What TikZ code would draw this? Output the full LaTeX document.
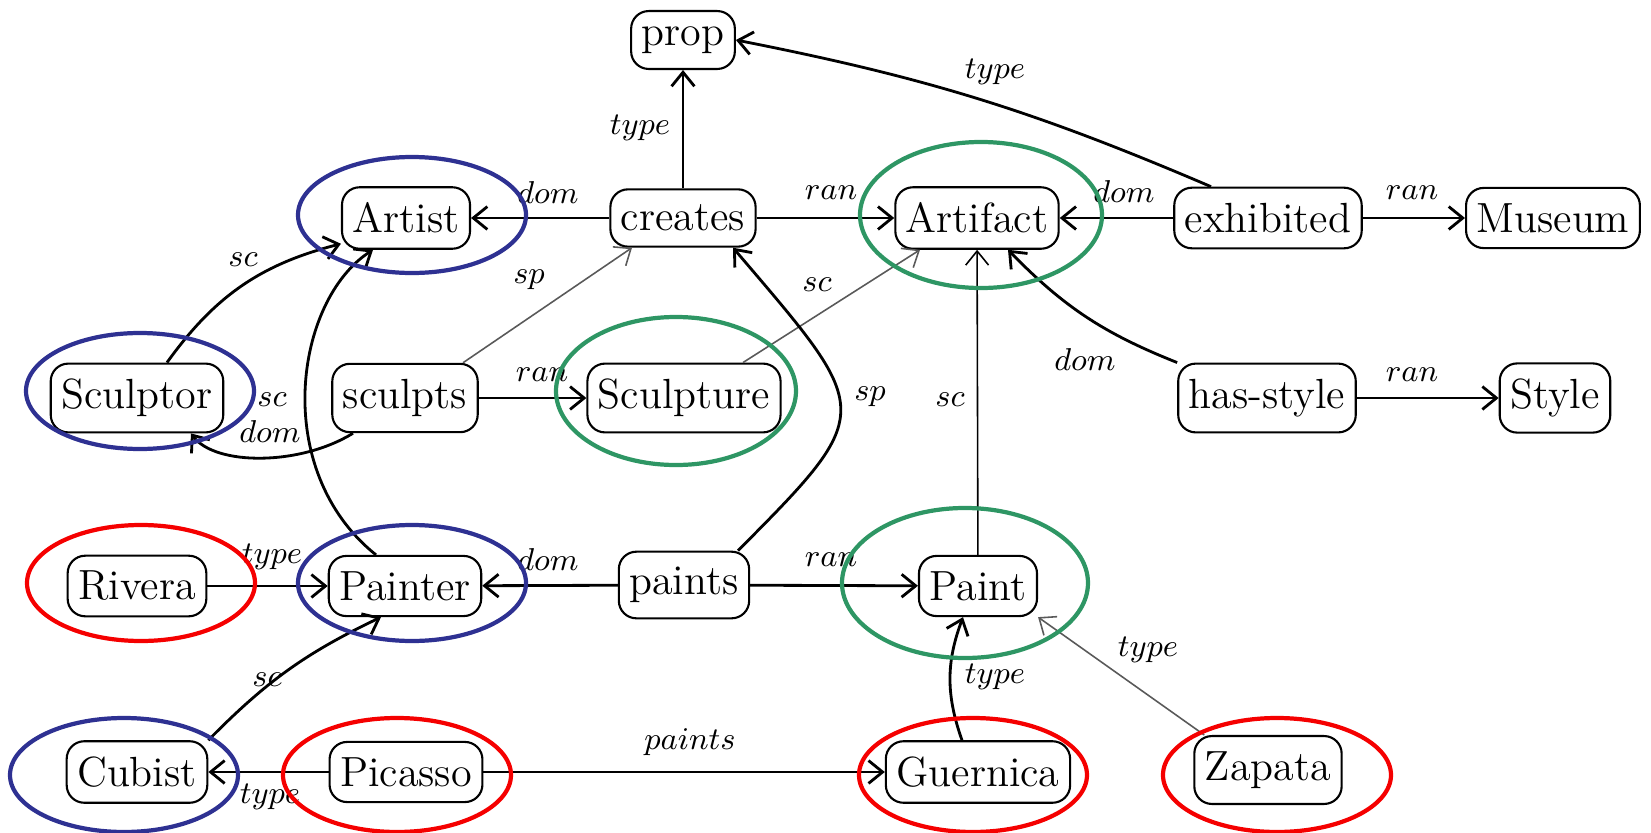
\documentclass[tikz,border=0pt]{standalone}
\usetikzlibrary{arrows.meta,calc}
\definecolor{ellblue}{RGB}{46,49,146}
\definecolor{ellgreen}{RGB}{46,150,100}
\definecolor{ellred}{RGB}{245,0,0}
\begin{document}
\begin{tikzpicture}[x=0.1mm,y=-0.1mm,
  box/.style={draw, rounded corners=5pt, line width=0.6pt, inner xsep=3pt, inner ysep=4.4pt, font=\fontsize{12}{14}\selectfont},
  edge/.style={line width=0.8pt, -{Straight Barb[length=4pt,width=6.5pt]}},
  thinedge/.style={line width=0.45pt, draw=black!65, -{Straight Barb[length=4pt,width=6.5pt]}},
  thinblack/.style={line width=0.45pt, draw=black, -{Straight Barb[length=4pt,width=6.5pt]}},
  lab/.style={font=\fontsize{9}{10}\selectfont, inner sep=0pt},
  ell/.style={line width=1.2pt}
]
\useasboundingbox (0,0) rectangle (1651,833);
% nodes
\node[box] (prop) at (683,40) {prop};
\node[box] (Artist) at (406,218) {Artist};
\node[box] (creates) at (683,218) {creates};
\node[box] (Artifact) at (977,218) {Artifact};
\node[box] (exhibited) at (1268,218) {exhibited};
\node[box] (Museum) at (1553,218) {Museum};
\node[box] (Sculptor) at (137,398) {Sculptor};
\node[box] (sculpts) at (405,398) {sculpts};
\node[box] (Sculpture) at (684,398) {Sculpture};
\node[box] (hasstyle) at (1267,398) {has-style};
\node[box] (Style) at (1555,398) {Style};
\node[box] (Rivera) at (137,586) {Rivera};
\node[box] (Painter) at (405,586) {Painter};
\node[box] (paints) at (684,585) {paints};
\node[box] (Paint) at (978,586) {Paint};
\node[box] (Cubist) at (137,772) {Cubist};
\node[box] (Picasso) at (406,772) {Picasso};
\node[box] (Guernica) at (978,772) {Guernica};
\node[box] (Zapata) at (1268,770) {Zapata};
% edges
\draw[edge] (creates) -- (prop);
\draw[edge] ($(exhibited.north)+(-57,0)$) to[bend right=6] (prop.east);
\draw[edge] (creates) -- (Artist);
\draw[edge] (creates) -- (Artifact);
\draw[edge] (exhibited) -- (Artifact);
\draw[edge] (exhibited) -- (Museum);
\draw[edge] ($(Sculptor.north)+(30,0)$) to[bend left=20] ($(Artist.south west)+(0,-6)$);
\draw[edge] ($(Painter.north)+(-29,0)$) .. controls (270,470) and (295,300) .. ($(Artist.south)+(-33,0)$);
\draw[edge] ($(sculpts.south)+(-52,0)$) .. controls (300,466) and (215,466) .. ($(Sculptor.south)+(54,0)$);
\draw[thinedge] ($(sculpts.north)+(58,0)$) -- ($(creates.south)+(-51,0)$);
\draw[thinedge] ($(Sculpture.north)+(59,0)$) -- ($(Artifact.south)+(-57,0)$);
\draw[edge] (sculpts) -- (Sculpture);
\draw[edge] ($(paints.north)+(54,0)$) .. controls (878,410) and (873,412) .. ($(creates.south)+(50,0)$);
\draw[thinblack] (Paint) -- (Artifact);
\draw[edge] (hasstyle.north west) to[bend left=12] ($(Artifact.south)+(31,0)$);
\draw[edge] (hasstyle) -- (Style);
\draw[edge] (Rivera) -- (Painter);
\draw[edge] (paints) -- (Painter);
\draw[edge] (paints) -- (Paint);
\draw[edge] (Cubist.north east) to[bend left=10] ($(Painter.south)+(-24,0)$);
\draw[edge] (Picasso) -- (Cubist);
\draw[edge] (Picasso) -- (Guernica);
\draw[edge] ($(Guernica.north)+(-16,0)$) to[bend left=20] ($(Paint.south)+(-15,0)$);
\draw[thinedge] ($(Zapata.north west)+(11,0)$) -- (Paint.south east);
% labels
\node[lab] (l1) at (640,128) {$type$};
\node[lab] (l2) at (995,72) {$type$};
\node[lab] (l3) at (548,193) {$dom$};
\node[lab] (l4) at (831,193) {$ran$};
\node[lab] (l5) at (1124,192) {$dom$};
\node[lab] (l6) at (1412,193) {$ran$};
\node[lab] (l7) at (243,260) {$sc$};
\node[lab] (l8) at (529,280) {$sp$};
\node[lab] (l9) at (817,285) {$sc$};
\node[lab] (l10) at (272,400) {$sc$};
\node[lab] (l11) at (542,375) {$ran$};
\node[lab] (l12) at (870,397) {$sp$};
\node[lab] (l13) at (950,400) {$sc$};
\node[lab] (l14) at (1085,360) {$dom$};
\node[lab] (l15) at (1412,375) {$ran$};
\node[lab] (l16) at (270,432) {$dom$};
\node[lab] (l17) at (272,557) {$type$};
\node[lab] (l18) at (548,560) {$dom$};
\node[lab] (l19) at (831,560) {$ran$};
\node[lab] (l20) at (267,680) {$sc$};
\node[lab] (l21) at (270,797) {$type$};
\node[lab] (l22) at (690,742) {$paints$};
\node[lab] (l23) at (995,677) {$type$};
\node[lab] (l24) at (1148,650) {$type$};
% ellipses
\draw[ell, ellblue] (412,215) ellipse [x radius=114, y radius=58];
\draw[ell, ellblue] (140,391) ellipse [x radius=114, y radius=58];
\draw[ell, ellgreen] (676,391) ellipse [x radius=120, y radius=74];
\draw[ell, ellgreen] (981,215) ellipse [x radius=121, y radius=73];
\draw[ell, ellred] (141,583) ellipse [x radius=114, y radius=58];
\draw[ell, ellblue] (412,583) ellipse [x radius=114, y radius=58];
\draw[ell, ellblue] (124,775) ellipse [x radius=114, y radius=57];
\draw[ell, ellred] (397,775) ellipse [x radius=114, y radius=57];
\draw[ell, ellgreen] (965,583) ellipse [x radius=123, y radius=75];
\draw[ell, ellred] (973,775) ellipse [x radius=114, y radius=57];
\draw[ell, ellred] (1277,775) ellipse [x radius=114, y radius=57];
\end{tikzpicture}
\end{document}
